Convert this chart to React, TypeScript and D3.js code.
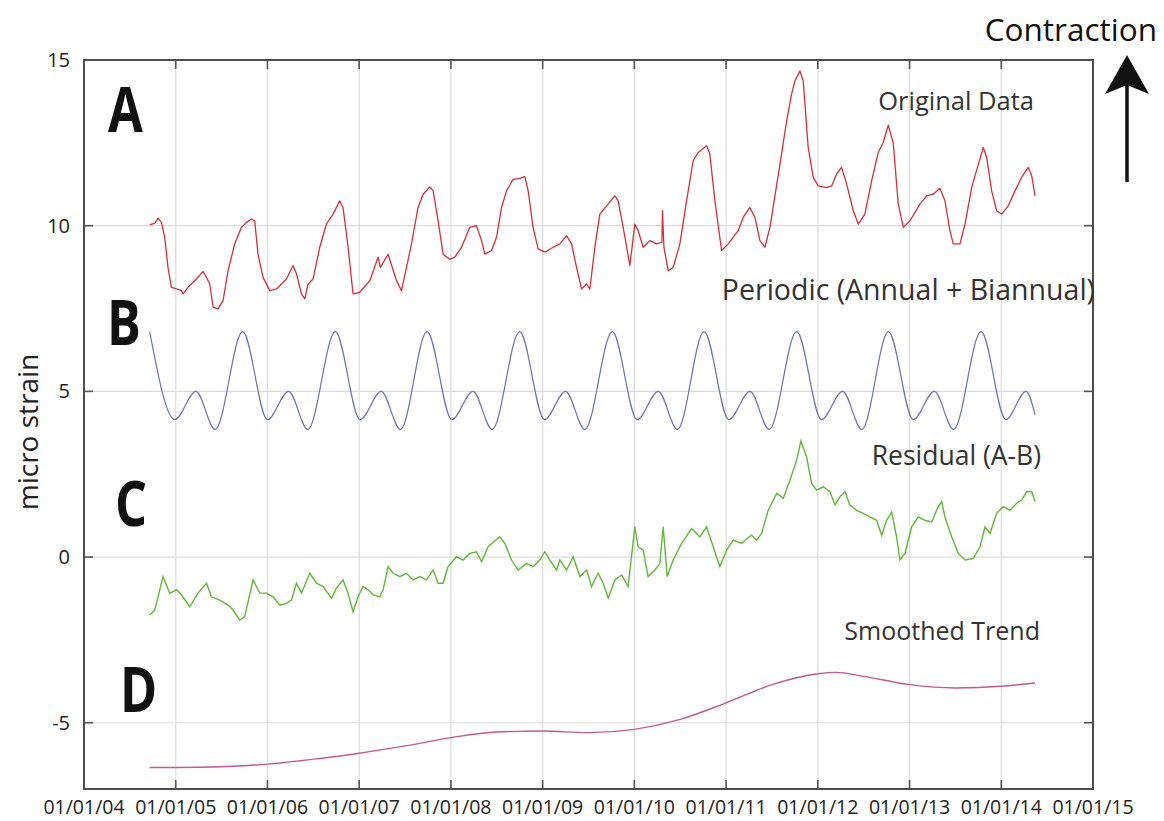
import React from "react";
import * as d3 from "d3";

// ---------- DATA ----------
const xTickYears = [2004, 2005, 2006, 2007, 2008, 2009, 2010, 2011, 2012, 2013, 2014, 2015];
const xTickLabels = ["01/01/04", "01/01/05", "01/01/06", "01/01/07", "01/01/08", "01/01/09", "01/01/10", "01/01/11", "01/01/12", "01/01/13", "01/01/14", "01/01/15"];
const yTicks = [15, 10, 5, 0, -5];

// A: Original data (years after 2004, micro strain)
const tA = [0.716,0.771,0.807,0.844,0.880,0.916,0.953,1.008,1.062,1.080,1.134,1.226,1.298,1.335,1.371,1.407,1.461,1.516,1.570,1.643,1.716,1.771,1.826,1.861,1.897,1.952,2.025,2.098,2.207,2.279,2.316,2.371,2.407,2.443,2.497,2.570,2.643,2.715,2.788,2.824,2.879,2.933,3.006,3.116,3.206,3.232,3.315,3.407,3.461,3.516,3.570,3.642,3.697,3.770,3.806,3.860,3.915,3.988,4.043,4.116,4.206,4.279,4.334,4.370,4.443,4.497,4.552,4.606,4.678,4.751,4.806,4.842,4.896,4.951,5.024,5.115,5.188,5.261,5.315,5.370,5.424,5.479,5.515,5.569,5.624,5.697,5.787,5.823,5.878,5.951,6.005,6.041,6.096,6.169,6.242,6.300,6.307,6.322,6.369,6.423,6.496,6.569,6.641,6.696,6.787,6.823,6.878,6.951,7.023,7.132,7.186,7.259,7.314,7.369,7.423,7.478,7.587,7.660,7.714,7.750,7.805,7.841,7.895,7.950,8.004,8.096,8.150,8.205,8.259,8.314,8.386,8.441,8.513,8.587,8.659,8.713,8.768,8.822,8.877,8.932,9.005,9.113,9.187,9.258,9.331,9.386,9.440,9.477,9.550,9.605,9.677,9.750,9.804,9.841,9.895,9.950,10.004,10.076,10.150,10.222,10.294,10.332,10.368];
const vA = [10.03,10.07,10.23,10.1,9.65,8.74,8.14,8.09,8.04,7.94,8.14,8.39,8.62,8.44,8.24,7.54,7.49,7.74,8.64,9.45,9.95,10.1,10.2,10.15,9.14,8.44,8.04,8.09,8.39,8.80,8.55,7.94,7.79,8.24,8.39,9.35,10.05,10.35,10.75,10.55,9.35,7.94,7.99,8.34,9.05,8.74,9.14,8.34,8.04,8.74,9.45,10.55,10.95,11.17,11.05,10.15,9.14,8.99,9.05,9.35,9.95,10.0,9.55,9.14,9.25,9.65,10.55,11.05,11.4,11.43,11.48,11.05,9.95,9.3,9.2,9.35,9.45,9.7,9.45,8.74,8.09,8.24,8.09,9.35,10.35,10.6,10.9,10.75,9.95,8.8,10.05,9.85,9.35,9.55,9.45,9.5,10.45,9.35,8.64,8.74,9.45,10.75,11.96,12.21,12.41,12.16,10.75,9.25,9.45,9.85,10.25,10.55,10.25,9.55,9.35,9.95,11.85,13.16,13.97,14.37,14.67,14.37,12.36,11.46,11.2,11.15,11.2,11.56,11.76,11.26,10.45,10.05,10.35,11.36,12.21,12.51,13.03,12.5,10.65,9.95,10.15,10.65,10.9,10.95,11.13,10.75,9.85,9.45,9.45,10.05,11.15,11.85,12.36,12.06,11.05,10.45,10.35,10.6,11.05,11.46,11.76,11.5,10.9];

// B: Periodic (annual + biannual) – turning points
const tB = [0.716,0.99,1.22,1.43,1.73,2.00,2.23,2.44,2.74,3.01,3.24,3.45,3.74,4.01,4.24,4.45,4.75,5.02,5.25,5.46,5.76,6.03,6.26,6.47,6.76,7.03,7.26,7.47,7.77,8.04,8.27,8.48,8.77,9.04,9.27,9.48,9.78,10.05,10.27,10.368];
const vB = [6.8,4.15,5.0,3.85,6.8,4.15,5.0,3.85,6.8,4.15,5.0,3.85,6.8,4.15,5.0,3.85,6.8,4.15,5.0,3.85,6.8,4.15,5.0,3.85,6.8,4.15,5.0,3.85,6.8,4.15,5.0,3.85,6.8,4.15,5.0,3.85,6.8,4.15,5.0,4.3];

// C: Residual (A-B)
const tC = [0.716,0.771,0.862,0.935,1.008,1.062,1.153,1.243,1.335,1.389,1.480,1.570,1.625,1.698,1.752,1.843,1.916,1.989,2.061,2.134,2.207,2.262,2.316,2.371,2.461,2.534,2.606,2.698,2.752,2.824,2.879,2.933,2.988,3.042,3.097,3.152,3.225,3.261,3.315,3.370,3.443,3.516,3.588,3.661,3.734,3.806,3.860,3.915,3.969,4.061,4.133,4.206,4.279,4.334,4.406,4.533,4.588,4.661,4.733,4.824,4.896,4.969,5.024,5.078,5.151,5.188,5.261,5.333,5.406,5.479,5.533,5.605,5.660,5.715,5.787,5.861,5.932,6.005,6.041,6.096,6.150,6.224,6.278,6.314,6.358,6.423,6.515,6.624,6.714,6.787,6.859,6.932,7.005,7.077,7.169,7.224,7.278,7.332,7.387,7.459,7.551,7.623,7.696,7.769,7.815,7.878,7.932,7.987,8.059,8.132,8.187,8.241,8.296,8.350,8.423,8.495,8.568,8.641,8.696,8.750,8.805,8.859,8.895,8.950,9.023,9.095,9.168,9.241,9.313,9.350,9.386,9.459,9.531,9.605,9.695,9.768,9.823,9.877,9.950,10.022,10.095,10.168,10.222,10.277,10.332,10.368];
const vC = [-1.75,-1.6,-0.59,-1.09,-0.99,-1.14,-1.5,-1.09,-0.79,-1.2,-1.3,-1.45,-1.6,-1.9,-1.8,-0.69,-1.09,-1.09,-1.2,-1.45,-1.4,-1.3,-0.79,-1.09,-0.49,-0.79,-0.89,-1.24,-0.94,-0.69,-1.09,-1.65,-1.2,-0.89,-0.99,-1.14,-1.2,-0.99,-0.29,-0.49,-0.59,-0.49,-0.69,-0.59,-0.69,-0.39,-0.79,-0.79,-0.29,0.01,-0.09,0.11,0.16,-0.14,0.31,0.61,0.41,-0.09,-0.39,-0.19,-0.29,-0.09,0.16,-0.09,-0.39,-0.09,-0.39,0.01,-0.59,-0.39,-0.89,-0.49,-0.79,-1.24,-0.69,-0.54,-0.89,0.91,0.31,0.21,-0.59,-0.39,-0.19,0.91,-0.59,-0.09,0.41,0.86,0.61,0.91,0.31,-0.29,0.21,0.51,0.41,0.56,0.66,0.51,0.71,1.41,1.92,1.77,2.32,2.92,3.5,3.02,2.22,2.02,2.12,1.97,1.57,1.82,1.97,1.57,1.41,1.32,1.21,1.11,0.66,1.11,1.36,0.61,-0.09,0.11,0.91,1.21,1.11,1.06,1.52,1.67,1.21,0.61,0.11,-0.09,-0.04,0.31,0.91,0.71,1.32,1.52,1.41,1.62,1.72,1.97,1.97,1.67];

// D: Smoothed trend
const tD = [0.716,1.0,1.5,2.0,2.5,3.0,3.5,4.0,4.5,5.0,5.5,6.0,6.5,7.0,7.5,8.0,8.2,8.5,9.0,9.5,10.0,10.368];
const vD = [-6.35,-6.35,-6.33,-6.25,-6.1,-5.92,-5.7,-5.45,-5.28,-5.25,-5.3,-5.2,-4.9,-4.4,-3.85,-3.52,-3.48,-3.6,-3.85,-3.95,-3.9,-3.8];

// ---------- LAYOUT ----------
const W = 1164, H = 821;
const L = 84, R = 1093, T = 60, B = 789;

const x = d3.scaleLinear().domain([2004, 2015]).range([L, R]);
const y = d3.scaleLinear().domain([-7, 15]).range([B, T]);

function pathOf(ts: number[], vs: number[], curve: d3.CurveFactory) {
  const pts = ts.map((t, i) => [2004 + t, vs[i]] as [number, number]);
  return d3.line<[number, number]>().x(d => x(d[0])).y(d => y(d[1])).curve(curve)(pts) || "";
}

const font = "'Open Sans', 'Noto Sans', sans-serif";

export default function App() {
  const pA = pathOf(tA, vA, d3.curveLinear);
  const pB = pathOf(tB, vB, d3.curveMonotoneX);
  const pC = pathOf(tC, vC, d3.curveLinear);
  const pD = pathOf(tD, vD, d3.curveMonotoneX);
  return (
    <svg width={W} height={H} style={{ position: "absolute", left: 0, top: 0, background: "#fff" }} fontFamily={font}>
      {/* grid */}
      {xTickYears.slice(1, -1).map(yr => (
        <line key={"gx" + yr} x1={x(yr)} x2={x(yr)} y1={T} y2={B} stroke="#dcdcdc" strokeWidth={1.2} />
      ))}
      {yTicks.slice(1).map(v => (
        <line key={"gy" + v} x1={L} x2={R} y1={y(v)} y2={y(v)} stroke="#dcdcdc" strokeWidth={1.2} />
      ))}
      {/* ticks */}
      {xTickYears.map(yr => (
        <g key={"tx" + yr}>
          <line x1={x(yr)} x2={x(yr)} y1={B} y2={B - 9} stroke="#555" strokeWidth={1.6} />
          <line x1={x(yr)} x2={x(yr)} y1={T} y2={T + 9} stroke="#555" strokeWidth={1.6} />
        </g>
      ))}
      {yTicks.map(v => (
        <g key={"ty" + v}>
          <line x1={L} x2={L + 9} y1={y(v)} y2={y(v)} stroke="#555" strokeWidth={1.6} />
          <line x1={R} x2={R - 9} y1={y(v)} y2={y(v)} stroke="#555" strokeWidth={1.6} />
        </g>
      ))}
      {/* series */}
      <path d={pD} fill="none" stroke="#c45a8c" strokeWidth={1.4} />
      <path d={pB} fill="none" stroke="#6f72b4" strokeWidth={1.2} />
      <path d={pC} fill="none" stroke="#62b83a" strokeWidth={1.4} />
      <path d={pA} fill="none" stroke="#d6303e" strokeWidth={1.3} strokeLinejoin="round" />
      {/* frame */}
      <rect x={L} y={T} width={R - L} height={B - T} fill="none" stroke="#4d4d4d" strokeWidth={2} />
      {/* tick labels */}
      {yTicks.map(v => (
        <text key={"ly" + v} x={70} y={y(v) + 7} textAnchor="end" fontSize={20} fill="#222">{v}</text>
      ))}
      {xTickYears.map((yr, i) => (
        <text key={"lx" + yr} x={x(yr)} y={814} textAnchor="middle" fontSize={19.5} fill="#222">{xTickLabels[i]}</text>
      ))}
      {/* axis title */}
      <text transform="translate(38,432) rotate(-90)" textAnchor="middle" fontSize={28} fill="#222">micro strain</text>
      {/* panel letters */}
      {[["A", 108, 132], ["B", 107, 345], ["C", 115, 526], ["D", 120, 712]].map(([s, px, py]) => (
        <text key={s as string} transform={`translate(${px},${py}) scale(0.8,1)`} fontSize={63} fontWeight={700} fill="#111">{s}</text>
      ))}
      {/* series labels */}
      <text x={1034} y={110} textAnchor="end" fontSize={25.5} fill="#333">Original Data</text>
      <text x={1095} y={300} textAnchor="end" fontSize={28.5} fill="#333">Periodic (Annual + Biannual)</text>
      <text x={1041} y={465} textAnchor="end" fontSize={26.5} fill="#333">Residual (A-B)</text>
      <text x={1040} y={640} textAnchor="end" fontSize={25} fill="#333">Smoothed Trend</text>
      {/* contraction arrow */}
      <text x={1157} y={41} textAnchor="end" fontSize={31.5} fill="#111">Contraction</text>
      <line x1={1127} x2={1127} y1={182} y2={85} stroke="#111" strokeWidth={3.5} />
      <path d="M1127,55 L1149,94 L1127,85 L1105,94 Z" fill="#111" />
    </svg>
  );
}
